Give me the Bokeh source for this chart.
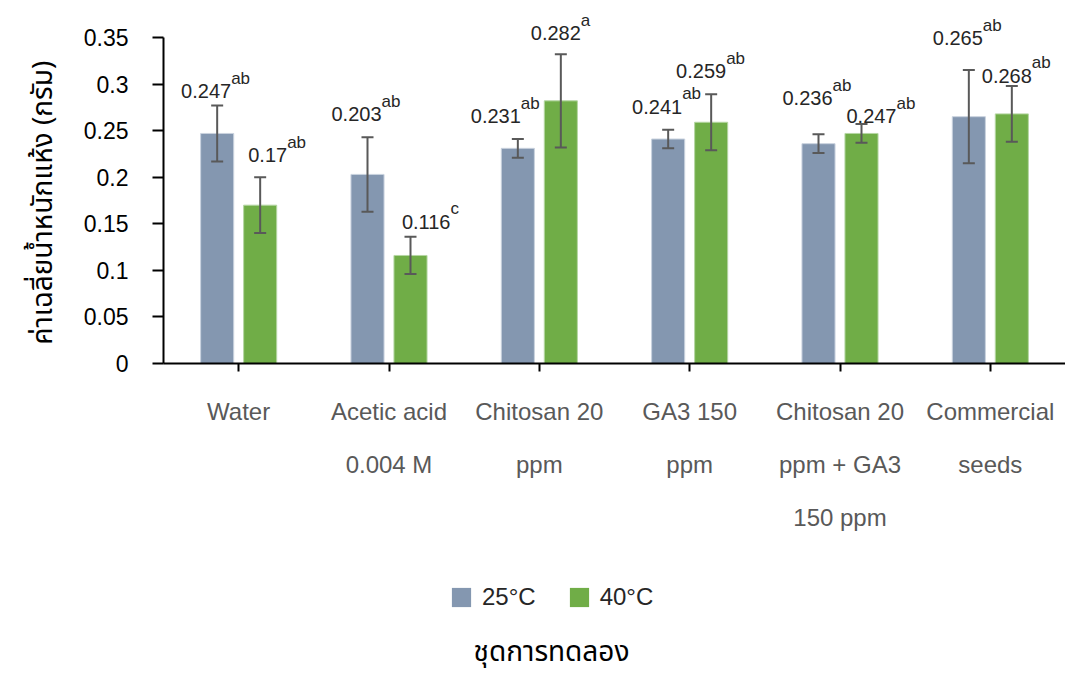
from bokeh.plotting import figure
from bokeh.models import (ColumnDataSource, FactorRange, Range1d, Whisker, TeeHead,
                          FixedTicker, Legend, LegendItem)
from bokeh.layouts import column
from bokeh.transform import dodge
from bokeh.core.properties import value
from bokeh.embed import file_html
from bokeh.resources import INLINE

categories = ["Water", "Acetic acid\n0.004 M", "Chitosan 20\nppm", "GA3 150\nppm",
              "Chitosan 20\nppm + GA3\n150 ppm", "Commercial\nseeds"]
series = ["25°C", "40°C"]
vals_25 = [0.247, 0.203, 0.231, 0.241, 0.236, 0.265]
vals_40 = [0.170, 0.116, 0.282, 0.259, 0.247, 0.268]
err_25 = [0.03, 0.04, 0.01, 0.01, 0.01, 0.05]
err_40 = [0.03, 0.02, 0.05, 0.03, 0.01, 0.03]
num_25 = ["0.247", "0.203", "0.231", "0.241", "0.236", "0.265"]
num_40 = ["0.17", "0.116", "0.282", "0.259", "0.247", "0.268"]
sup_25 = ["ab", "ab", "ab", "ab", "ab", "ab"]
sup_40 = ["ab", "c", "a", "ab", "ab", "ab"]
y_ticks = [0, 0.05, 0.1, 0.15, 0.2, 0.25, 0.3, 0.35]
y_tick_labels = ["0", "0.05", "0.1", "0.15", "0.2", "0.25", "0.3", "0.35"]
x_title = "ชุดการทดลอง"
y_title = "ค่าเฉลี่ยน้ำหนักแห้ง (กรัม)"

# label placement (pixel offsets from the top of each error bar) - layout only
lab_dx_25 = [14, 14, 3, 14, 14, 14]
lab_dy_25 = [14, 23, 23, 23, 36, 32]
lab_dx_40 = [27, 40, 20, 15, 35, 20]
lab_dy_40 = [22, 15, 21, 23, 8, 10]

C25 = "#8497B0"
C40 = "#70AD47"
LATIN = "Liberation Sans"
THAI = "Noto Sans Thai, Loma, Garuda, Norasi, Noto Sans, sans-serif"

def mk(vals, errs, nums, sups, dx, dy):
    return ColumnDataSource(dict(
        cats=categories, val=vals,
        upper=[v + e for v, e in zip(vals, errs)],
        lower=[v - e for v, e in zip(vals, errs)],
        num=nums, sup=sups, dx=dx,
        dy=[-d for d in dy],
        dys=[-d - 13 for d in dy],
    ))

s25 = mk(vals_25, err_25, num_25, sup_25, lab_dx_25, lab_dy_25)
s40 = mk(vals_40, err_40, num_40, sup_40, lab_dx_40, lab_dy_40)

YTOP = 0.35 + 32 / 931.4  # headroom above the last tick for the labels
p = figure(width=1065, height=555, x_range=FactorRange(*categories),
           y_range=Range1d(0, YTOP), output_backend="svg", toolbar_location=None,
           min_border_left=163, min_border_right=0, min_border_top=5,
           min_border_bottom=192)
p.outline_line_color = None
p.xgrid.visible = False
p.ygrid.visible = False

OFF = 0.143
W = 0.22
p.vbar(x=dodge("cats", -OFF, range=p.x_range), top="val", width=W, source=s25,
       fill_color=C25, line_color="#c9d2de", line_width=1)
p.vbar(x=dodge("cats", OFF, range=p.x_range), top="val", width=W, source=s40,
       fill_color=C40, line_color="#b5d6a3", line_width=1)

for src, off in ((s25, -OFF), (s40, OFF)):
    wk = Whisker(base=dodge("cats", off, range=p.x_range), upper="upper", lower="lower",
                 source=src, line_color="#595959", line_width=2, level="overlay",
                 upper_head=TeeHead(size=12, line_color="#595959", line_width=2),
                 lower_head=TeeHead(size=12, line_color="#595959", line_width=2))
    p.add_layout(wk)
    p.text(x=dodge("cats", off, range=p.x_range), y="upper", text="num", source=src,
           x_offset="dx", y_offset="dy", text_align="right", text_baseline="alphabetic",
           text_font=value(LATIN), text_font_size="20px", text_color="#262626")
    p.text(x=dodge("cats", off, range=p.x_range), y="upper", text="sup", source=src,
           x_offset="dx", y_offset="dys", text_align="left", text_baseline="alphabetic",
           text_font=value(LATIN), text_font_size="17px", text_color="#262626")

# y axis
ya = p.yaxis[0]
ya.ticker = FixedTicker(ticks=y_ticks)
ya.bounds = (0, 0.35)
ya.major_label_overrides = {t: l for t, l in zip(y_ticks, y_tick_labels)}
ya.major_label_text_font = LATIN
ya.major_label_text_font_size = "23px"
ya.major_label_text_color = "#000000"
ya.major_label_standoff = 24
ya.major_tick_out = 11
ya.major_tick_in = 0
ya.minor_tick_out = 0
ya.minor_tick_in = 0
ya.axis_line_color = "#000000"
ya.axis_line_width = 2
ya.major_tick_line_color = "#000000"
ya.major_tick_line_width = 2
# trailing no-break spaces centre the title on the 0-0.35 span instead of the whole frame
ya.axis_label = y_title + "\u00a0" * 5
ya.axis_label_text_font = THAI
ya.axis_label_text_font_size = "28px"
ya.axis_label_text_font_style = "normal"
ya.axis_label_text_color = "#000000"
ya.axis_label_standoff = 16

# x axis
xa = p.xaxis[0]
xa.major_label_text_font = LATIN
xa.major_label_text_font_size = "24px"
xa.major_label_text_color = "#595959"
xa.major_label_text_line_height = 1.98
xa.major_label_standoff = 26
xa.major_label_orientation = "horizontal"
xa.major_tick_out = 8
xa.major_tick_in = 0
xa.axis_line_color = "#000000"
xa.axis_line_width = 2
xa.major_tick_line_color = "#000000"
xa.major_tick_line_width = 2

# bottom strip: legend and x-axis title; its frame is aligned with the plot's frame,
# so the x range is given in page pixels from the frame's left edge
q = figure(width=1065, height=118, x_range=Range1d(163, 1065), y_range=Range1d(0, 118),
           output_backend="svg", toolbar_location=None, x_axis_type=None,
           y_axis_type=None, min_border=0)
q.outline_line_color = None
q.xgrid.visible = False
q.ygrid.visible = False
g25 = q.vbar(x=[0], top=[0], width=1, fill_color=C25, line_color=None)
g40 = q.vbar(x=[0], top=[0], width=1, fill_color=C40, line_color=None)
legend = Legend(items=[LegendItem(label=series[0], renderers=[g25]),
                       LegendItem(label=series[1], renderers=[g40])],
                orientation="horizontal", location=(286, 62),
                glyph_width=24, glyph_height=24, label_text_font=LATIN,
                label_text_font_size="24px", label_text_color="#262626",
                label_standoff=9, spacing=31, padding=0, margin=0,
                border_line_color=None, background_fill_alpha=0,
                label_height=24)
q.add_layout(legend, "center")
q.text(x=[551], y=[21], text=[x_title], text_align="center", text_baseline="middle",
       text_font=value(THAI), text_font_size="28px", text_color="#000000")

open("out.html", "w").write(file_html(column(p, q, spacing=0), INLINE))
